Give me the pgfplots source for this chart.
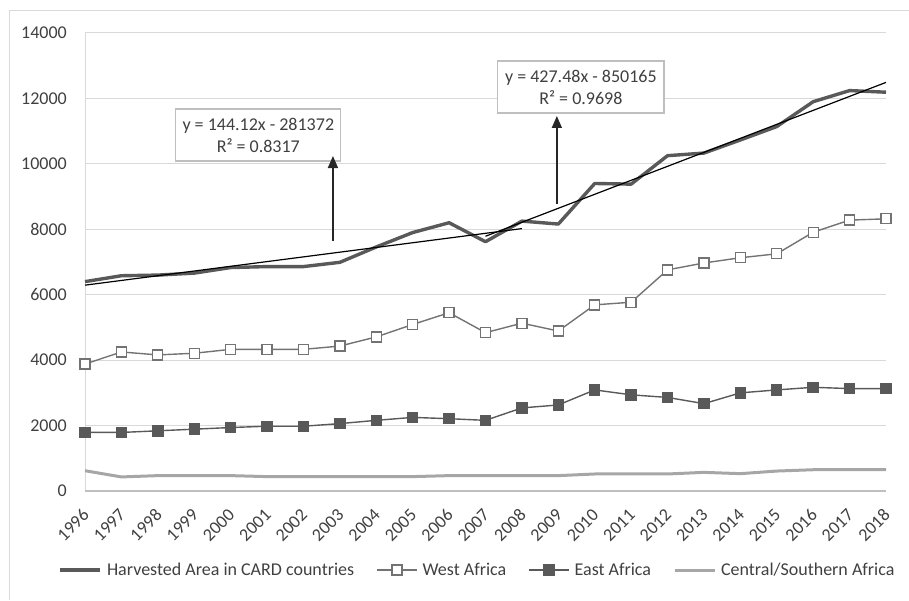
\documentclass[border=0pt]{standalone}
\usepackage{pgfplots}
\pgfplotsset{compat=1.18}
\usepackage{pgfplotstable}
\usetikzlibrary{arrows.meta}
\usepackage{fontspec}
\setmainfont{Carlito}

\definecolor{txt}{HTML}{404040}
\definecolor{gridc}{HTML}{D9D9D9}
\definecolor{axisc}{HTML}{BFBFBF}
\definecolor{harv}{HTML}{595959}
\definecolor{west}{HTML}{737373}
\definecolor{east}{HTML}{595959}
\definecolor{cent}{HTML}{A6A6A6}

% harvested area by region (thousand ha)
\pgfplotstableread{
year harv  west east cent
1996 6400  3880 1790 620
1997 6580  4250 1790 430
1998 6600  4160 1840 470
1999 6660  4210 1890 470
2000 6830  4330 1940 470
2001 6860  4330 1980 440
2002 6860  4330 1980 440
2003 6990  4430 2060 440
2004 7460  4710 2160 440
2005 7900  5090 2250 440
2006 8200  5450 2210 470
2007 7620  4840 2160 470
2008 8250  5130 2540 470
2009 8160  4890 2630 470
2010 9400  5690 3090 520
2011 9380  5770 2940 520
2012 10250 6760 2860 520
2013 10330 6970 2670 570
2014 10730 7130 3000 530
2015 11140 7250 3090 610
2016 11900 7910 3170 650
2017 12240 8280 3130 650
2018 12190 8320 3130 650
}\area

\newcommand{\chartfont}{\fontsize{18}{22}\selectfont}

\begin{document}
\begin{tikzpicture}[x=1pt,y=1pt]
\path[use as bounding box] (0,0) rectangle (909,600);
\draw[gridc, line width=1pt] (9,0) -- (9,589) -- (909,589);
\begin{axis}[
  at={(85pt,109pt)}, anchor=south west, scale only axis,
  width=801pt, height=458pt,
  xmin=1996, xmax=2018, ymin=0, ymax=14000,
  xtick={1996,...,2018}, ytick={0,2000,...,14000},
  scaled y ticks=false,
  /pgf/number format/1000 sep={},
  /pgf/number format/assume math mode=true,
  axis line style={draw=none},
  major tick length=0pt,
  ymajorgrids, grid style={gridc, line width=1pt},
  clip=false,
  tick label style={font=\chartfont, text=txt},
  yticklabel style={font=\chartfont, inner sep=0pt, anchor=east, xshift=-18pt},
  xticklabel style={font=\chartfont, inner sep=0pt, xshift=1pt, yshift=-21pt, rotate=45, anchor=east},
  legend columns=4,
  legend style={at={(0.4888,-0.1725)}, anchor=center, draw=none, fill=none,
    font=\chartfont, text=txt, nodes={inner sep=0pt},
    /tikz/every odd column/.append style={column sep=5pt},
    /tikz/every even column/.append style={column sep=22pt}},
  legend image code/.code={\draw[mark repeat=2,mark phase=2,#1]
    plot coordinates {(0pt,0pt) (20pt,0pt) (40pt,0pt)};},
]
\draw[gridc, line width=1pt] (rel axis cs:0,0) -- (rel axis cs:0,1);
\draw[axisc, line width=1.6pt] (rel axis cs:0,0) -- (rel axis cs:1,0);

\addplot[harv, line width=3.4pt, line join=round, no markers]
  table[x=year, y=harv] {\area};
\addlegendentry{Harvested Area in CARD countries}
\addplot[west, line width=1.4pt, mark=square*, mark size=5pt,
  mark options={fill=white, line width=1.3pt}]
  table[x=year, y=west] {\area};
\addlegendentry{West Africa}
\addplot[east, line width=1.4pt, mark=square*, mark size=5pt,
  mark options={fill=east}]
  table[x=year, y=east] {\area};
\addlegendentry{East Africa}
\addplot[cent, line width=3pt, line join=round, no markers]
  table[x=year, y=cent] {\area};
\addlegendentry{Central/Southern Africa}

% linear trends for 1996-2008 and 2007-2018
\addplot[black, line width=1.2pt, forget plot] coordinates {(1996,6292) (2008,8021)};
\addplot[black, line width=1.2pt, forget plot] coordinates {(2007,7787) (2018,12490)};

\node[draw=axisc, line width=1.2pt, fill=white, minimum width=165pt, minimum height=52pt,
  align=center, font=\chartfont, text=txt] at (axis cs:2000.76,10882)
  {y = 144.12x - 281372\\R² = 0.8317};
\node[draw=axisc, line width=1.2pt, fill=white, minimum width=166pt, minimum height=52pt,
  align=center, font=\chartfont, text=txt] at (axis cs:2009.62,12350)
  {y = 427.48x - 850165\\R² = 0.9698};

\draw[-{Triangle[length=12pt,width=10pt]}, line width=1.6pt, black!85]
  (axis cs:2002.81,7642) -- (axis cs:2002.81,10240);
\draw[-{Triangle[length=12pt,width=10pt]}, line width=1.6pt, black!85]
  (axis cs:2008.96,8773) -- (axis cs:2008.96,11463);
\end{axis}
\end{tikzpicture}
\end{document}
